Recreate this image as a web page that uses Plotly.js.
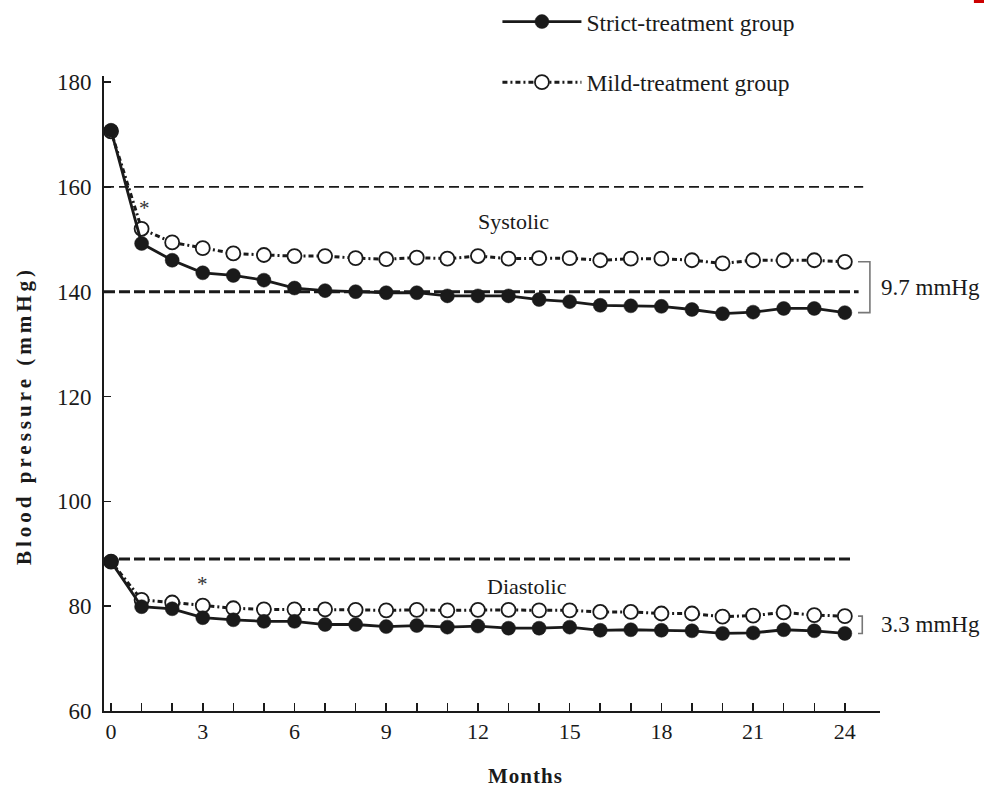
<!DOCTYPE html>
<html>
<head>
<meta charset="utf-8">
<script src="https://cdn.plot.ly/plotly-3.0.1.min.js"></script>
<style>
  html, body { margin: 0; padding: 0; background: #fff; }
  #chart { width: 984px; height: 792px; }
  /* wide tracking on the rotated axis title */
  g.annotation[data-index="0"] text { letter-spacing: 4px; }
  g.annotation[data-index="1"] text { letter-spacing: 1px; }
</style>
</head>
<body>
<div id="chart"></div>
<script>
// Follow-up months
const months = [0, 1, 2, 3, 4, 5, 6, 7, 8, 9, 10, 11, 12, 13, 14, 15, 16, 17, 18, 19, 20, 21, 22, 23, 24];
const monthTickLabels = ['0', '', '', '3', '', '', '6', '', '', '9', '', '', '12', '', '', '15', '', '', '18', '', '', '21', '', '', '24'];

// Mean systolic blood pressure (mmHg)
const systolicStrict = [170.8, 149.2, 146.0, 143.6, 143.1, 142.2, 140.7, 140.2, 140.0, 139.8, 139.8, 139.2, 139.2, 139.2, 138.5, 138.1, 137.4, 137.3, 137.2, 136.6, 135.8, 136.1, 136.8, 136.8, 136.0];
const systolicMild   = [170.6, 152.0, 149.4, 148.3, 147.3, 147.0, 146.8, 146.8, 146.4, 146.2, 146.5, 146.3, 146.8, 146.3, 146.4, 146.4, 146.0, 146.3, 146.3, 146.0, 145.4, 146.0, 146.0, 146.0, 145.7];

// Mean diastolic blood pressure (mmHg)
const diastolicStrict = [88.5, 79.9, 79.5, 77.8, 77.4, 77.1, 77.1, 76.5, 76.5, 76.1, 76.3, 76.0, 76.2, 75.8, 75.8, 76.0, 75.4, 75.5, 75.4, 75.3, 74.8, 74.9, 75.5, 75.3, 74.8];
const diastolicMild   = [88.5, 81.2, 80.7, 80.1, 79.6, 79.4, 79.4, 79.4, 79.3, 79.2, 79.3, 79.2, 79.3, 79.3, 79.2, 79.2, 78.9, 78.9, 78.6, 78.6, 78.0, 78.2, 78.8, 78.3, 78.1];

// Reference thresholds (mmHg)
const systolicThresholds = [160, 140];
const diastolicThreshold = [89];

const yTickValues = [60, 80, 100, 120, 140, 160, 180];
const groupNames = ['Strict-treatment group', 'Mild-treatment group'];

const serif = '"Liberation Serif", "DejaVu Serif", "Times New Roman", serif';
const ink = '#1a1a1a';
const xRange = [-0.23, 25.15];
const yRange = [60, 181.15];

const last = months.length - 1;
const lastMonth = months[last];

const mildLine = { color: ink, width: 3, dash: '5px,3px,2px,3px' };
const mildMarker = { symbol: 'circle', size: 14, color: '#ffffff', line: { color: ink, width: 1.8 } };
const strictLine = { color: ink, width: 2.8 };
const strictMarker = { symbol: 'circle', size: 14, color: ink, line: { color: ink, width: 0.5 } };

const traces = [
  { x: months, y: systolicMild, mode: 'lines+markers', name: groupNames[1], legendgroup: 'mild', legendrank: 2,
    line: mildLine, marker: mildMarker, showlegend: true },
  { x: months, y: diastolicMild, mode: 'lines+markers', name: groupNames[1], legendgroup: 'mild',
    line: mildLine, marker: mildMarker, showlegend: false },
  { x: months, y: systolicStrict, mode: 'lines+markers', name: groupNames[0], legendgroup: 'strict', legendrank: 1,
    line: strictLine, marker: strictMarker, showlegend: true },
  { x: months, y: diastolicStrict, mode: 'lines+markers', name: groupNames[0], legendgroup: 'strict',
    line: strictLine, marker: strictMarker, showlegend: false }
];

// Gap between the two groups at the final visit
const sysGap = systolicMild[last] - systolicStrict[last];
const diaGap = diastolicMild[last] - diastolicStrict[last];

const shapes = [
  // threshold lines
  { type: 'line', xref: 'x', yref: 'y', x0: xRange[0], x1: 24.6, y0: systolicThresholds[0], y1: systolicThresholds[0],
    line: { color: ink, width: 1.6, dash: '10px,5px' } },
  { type: 'line', xref: 'x', yref: 'y', x0: xRange[0], x1: 24.45, y0: systolicThresholds[1], y1: systolicThresholds[1],
    line: { color: ink, width: 3, dash: '11px,4px' } },
  { type: 'line', xref: 'x', yref: 'y', x0: xRange[0], x1: 24.17, y0: diastolicThreshold[0], y1: diastolicThreshold[0],
    line: { color: ink, width: 3, dash: '11px,4px' } },
  // brackets marking the final difference
  { type: 'path', xref: 'x', yref: 'y',
    path: `M ${lastMonth + 0.43} ${systolicMild[last]} L ${lastMonth + 0.82} ${systolicMild[last]} L ${lastMonth + 0.82} ${systolicStrict[last]} L ${lastMonth + 0.43} ${systolicStrict[last]}`,
    line: { color: '#777', width: 1.6 } },
  { type: 'path', xref: 'x', yref: 'y',
    path: `M ${lastMonth + 0.43} ${diastolicMild[last]} L ${lastMonth + 0.57} ${diastolicMild[last]} L ${lastMonth + 0.57} ${diastolicStrict[last]} L ${lastMonth + 0.43} ${diastolicStrict[last]}`,
    line: { color: '#777', width: 1.6 } },
  // corner mark
  { type: 'rect', xref: 'paper', yref: 'paper', x0: 1.121, x1: 1.14, y0: 1.115, y1: 1.125,
    fillcolor: '#cc0000', line: { width: 0 } }
];

const annotations = [
  { text: 'Blood pressure (mmHg)', xref: 'paper', yref: 'paper', x: -0.104, y: 0.465, textangle: -90,
    showarrow: false, xanchor: 'center', yanchor: 'middle',
    font: { family: serif, size: 21, color: ink, weight: 'bold' } },
  { text: 'Months', xref: 'paper', yref: 'paper', x: 0.543, y: -0.103, showarrow: false,
    xanchor: 'center', yanchor: 'middle', borderpad: 0,
    font: { family: serif, size: 21, color: ink, weight: 'bold' } },
  { text: 'Systolic', x: 13.15, y: 153.3, xref: 'x', yref: 'y', showarrow: false,
    font: { family: serif, size: 22, color: ink } },
  { text: 'Diastolic', x: 13.6, y: 83.7, xref: 'x', yref: 'y', showarrow: false,
    font: { family: serif, size: 22, color: ink } },
  { text: '*', x: 1.11, y: 156.0, xref: 'x', yref: 'y', showarrow: false,
    font: { family: serif, size: 21, color: '#333' } },
  { text: '*', x: 3.0, y: 84.2, xref: 'x', yref: 'y', showarrow: false,
    font: { family: serif, size: 21, color: '#333' } },
  { text: sysGap.toFixed(1) + ' mmHg', x: lastMonth + 1.12, y: (systolicMild[last] + systolicStrict[last]) / 2,
    xref: 'x', yref: 'y', xanchor: 'left', showarrow: false,
    font: { family: serif, size: 23, color: ink } },
  { text: diaGap.toFixed(1) + ' mmHg', x: lastMonth + 1.12, y: (diastolicMild[last] + diastolicStrict[last]) / 2,
    xref: 'x', yref: 'y', xanchor: 'left', showarrow: false,
    font: { family: serif, size: 23, color: ink } }
];

const layout = {
  width: 984,
  height: 792,
  margin: { l: 104, r: 104, t: 76, b: 81, pad: 0, autoexpand: false },
  paper_bgcolor: '#ffffff',
  plot_bgcolor: '#ffffff',
  font: { family: serif, size: 21, color: ink },
  showlegend: true,
  legend: {
    x: 0.507, y: 1.12, xanchor: 'left', yanchor: 'top',
    bgcolor: 'rgba(0,0,0,0)', borderwidth: 0,
    traceorder: 'grouped', tracegroupgap: 27, itemwidth: 79,
    font: { family: serif, size: 23.5, color: ink }
  },
  xaxis: {
    range: xRange, showgrid: false, zeroline: false,
    showline: true, linecolor: ink, linewidth: 2,
    tickmode: 'array', tickvals: months, ticktext: monthTickLabels,
    ticks: 'inside', ticklen: 8, tickwidth: 1.5, tickcolor: ink,
    ticklabelstandoff: 0,
    tickfont: { family: serif, size: 22, color: ink },
    automargin: false, fixedrange: true
  },
  yaxis: {
    range: yRange, showgrid: false, zeroline: false,
    showline: true, linecolor: ink, linewidth: 2,
    tickmode: 'array', tickvals: yTickValues,
    ticks: 'inside', ticklen: 7, tickwidth: 1.5, tickcolor: ink,
    ticklabelstandoff: 6,
    tickfont: { family: serif, size: 23, color: ink },
    automargin: false, fixedrange: true
  },
  shapes: shapes,
  annotations: annotations
};

Plotly.newPlot('chart', traces, layout, { displayModeBar: false, staticPlot: true });
</script>
</body>
</html>
